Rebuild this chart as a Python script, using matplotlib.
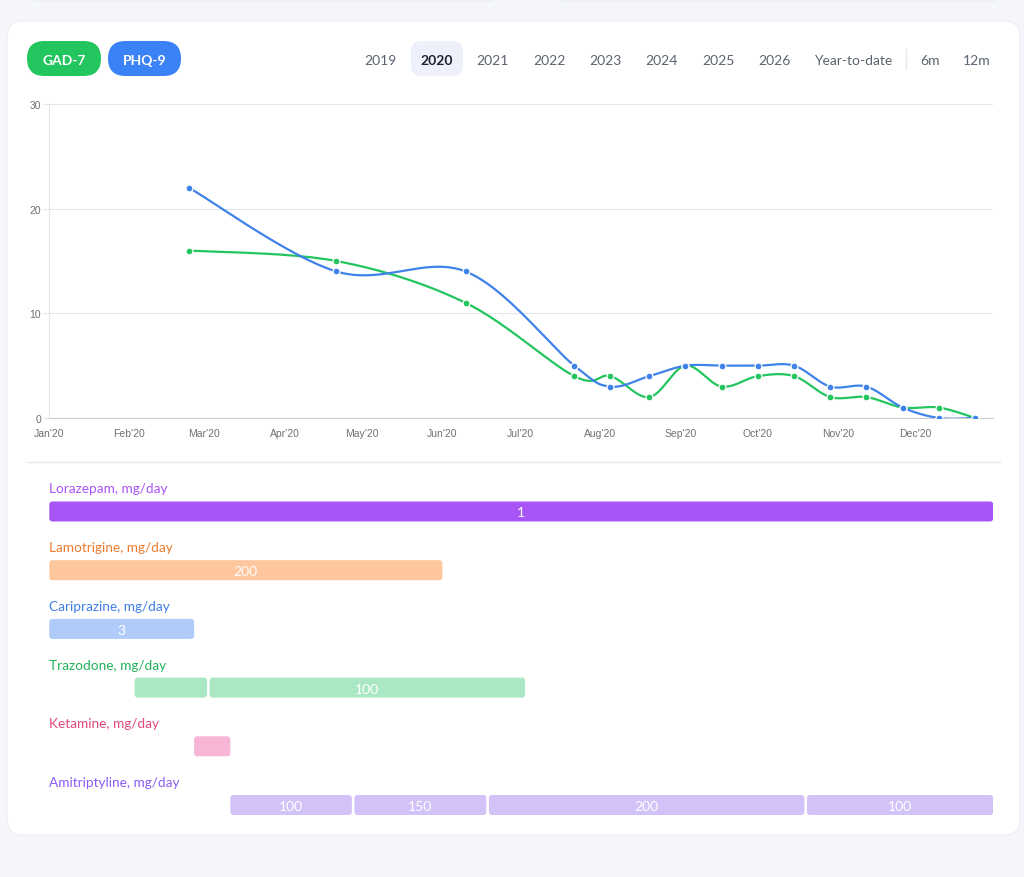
import numpy as np
import pandas as pd
import matplotlib
matplotlib.use("Agg")
import matplotlib.pyplot as plt
import matplotlib.dates as mdates
from matplotlib.patches import FancyBboxPatch

# assessment scores
dates = ["2020-02-24", "2020-04-21", "2020-06-10", "2020-07-22", "2020-08-05",
         "2020-08-20", "2020-09-03", "2020-09-17", "2020-10-01", "2020-10-15",
         "2020-10-29", "2020-11-12", "2020-11-26", "2020-12-10", "2020-12-24"]
gad7 = [16, 15, 11, 4, 4, 2, 5, 3, 4, 4, 2, 2, 1, 1, 0]
phq9 = [22, 14, 14, 5, 3, 4, 5, 5, 5, 5, 3, 3, 1, 0, 0]

# medications: name, segments (start, end), dose labels
med_names = ["Lorazepam", "Lamotrigine", "Cariprazine", "Trazodone", "Ketamine", "Amitriptyline"]
med_segments = [
    [("2020-01-01", "2020-12-31")],
    [("2020-01-01", "2020-06-01")],
    [("2020-01-01", "2020-02-26")],
    [("2020-02-03", "2020-03-02"), ("2020-03-03", "2020-07-03")],
    [("2020-02-26", "2020-03-11")],
    [("2020-03-11", "2020-04-27"), ("2020-04-28", "2020-06-18"),
     ("2020-06-19", "2020-10-19"), ("2020-10-20", "2020-12-31")],
]
med_doses = [["1"], ["200"], ["3"], ["", "100"], [""], ["100", "150", "200", "100"]]
med_text_colors = ["#a855f7", "#ee7b30", "#3f7fe6", "#22b35a", "#e0487f", "#8b5cf6"]
med_bar_colors = ["#a855f7", "#fdc69c", "#b0cbfa", "#a9e8c2", "#f7b6d6", "#d3c2f8"]

years = ["2019", "2020", "2021", "2022", "2023", "2024", "2025", "2026", "Year-to-date"]

BLUE = "#3f82ea"
GREEN = "#22c55e"
UI = "Lato"

fig = plt.figure(figsize=(10.24, 8.78), dpi=100)
fig.patch.set_facecolor("#f4f6fb")

# background / card layer in pixel coords
bg = fig.add_axes([0, 0, 1, 1])
bg.set_xlim(0, 1024)
bg.set_ylim(878, 0)
bg.axis("off")


def rbox(ax, x0, y0, x1, y1, r, fc, ec="none", lw=0, z=1):
    ax.add_patch(FancyBboxPatch((x0, y0), x1 - x0, y1 - y0,
                                boxstyle=f"round,pad=0,rounding_size={r}",
                                fc=fc, ec=ec, lw=lw, zorder=z))


rbox(bg, 30, -30, 497, 2, 10, "white", "#e8ebf2", 0.8)
rbox(bg, 557, -30, 1000, 2, 10, "white", "#e8ebf2", 0.8)
rbox(bg, 7, 22, 1020, 836, 16, "white", "#eceef4", 0.8)

# pills
ty = 61
rbox(bg, 27, 42, 101, 77, 17.5, GREEN, z=2)
rbox(bg, 108, 42, 181, 77, 17.5, "#3b82f6", z=2)
bg.text(64, ty, "GAD-7", color="white", fontsize=10, fontfamily=UI, fontweight="bold",
        ha="center", va="center", zorder=3)
bg.text(144.5, ty, "PHQ-9", color="white", fontsize=10, fontfamily=UI, fontweight="bold",
        ha="center", va="center", zorder=3)

# year tabs
tab_x = [380, 437, 492, 549, 605, 661, 718, 774, 853]
rbox(bg, 411, 42, 463, 77, 10, "#eef0fc", z=2)
for tx, label in zip(tab_x, years):
    sel = label == "2020"
    bg.text(tx, ty, label, color="#1f2430" if sel else "#5b6370", fontsize=10,
            fontfamily=UI, fontweight="bold" if sel else "normal",
            ha="center", va="center", zorder=3)
bg.plot([906, 906], [50, 70], color="#e5e7eb", lw=1, zorder=3)
bg.text(930, ty, "6m", color="#5b6370", fontsize=10, fontfamily=UI, ha="center", va="center", zorder=3)
bg.text(977, ty, "12m", color="#5b6370", fontsize=10, fontfamily=UI, ha="center", va="center", zorder=3)

# separator
bg.plot([28, 1000], [463, 463], color="#e6e8ee", lw=1, zorder=3)

# ---- score chart ----
x0_px, x1_px = 49.3, 993.2
ax = fig.add_axes([x0_px / 1024, 1 - 419 / 878, (x1_px - x0_px) / 1024, (419 - 105) / 878])
ax.patch.set_alpha(0)
xmin = mdates.date2num(pd.Timestamp("2020-01-01"))
xmax = mdates.date2num(pd.Timestamp("2020-12-31"))
ax.set_xlim(xmin, xmax)
ax.set_ylim(0, 30)


def catmull(x, y, n=24):
    pts = np.column_stack([x, y])
    P = np.vstack([pts[0], pts, pts[-1]])
    t = np.linspace(0, 1, n)[:, None]
    out = []
    for i in range(1, len(P) - 2):
        p0, p1, p2, p3 = P[i - 1], P[i], P[i + 1], P[i + 2]
        seg = 0.5 * (2 * p1 + (-p0 + p2) * t + (2 * p0 - 5 * p1 + 4 * p2 - p3) * t ** 2
                     + (-p0 + 3 * p1 - 3 * p2 + p3) * t ** 3)
        out.append(seg)
    return np.vstack(out)


xd = mdates.date2num(pd.to_datetime(dates))
for vals, col in [(gad7, GREEN), (phq9, BLUE)]:
    c = catmull(xd, np.array(vals, dtype=float))
    ax.plot(c[:, 0], c[:, 1], color=col, lw=1.6, zorder=3, solid_capstyle="round")
    ax.plot(xd, vals, "o", ms=5, color=col, mec="white", mew=0.9, zorder=4)

ax.set_yticks([0, 10, 20, 30])
ax.grid(axis="y", color="#e4e6ea", lw=0.8)
ax.set_axisbelow(True)
ax.xaxis.set_major_locator(mdates.MonthLocator())
ax.xaxis.set_major_formatter(mdates.DateFormatter("%b'%y"))
for s in ["top", "right"]:
    ax.spines[s].set_visible(False)
ax.spines["left"].set_color("#e4e6ea")
ax.spines["bottom"].set_color("#c9ccd2")
ax.tick_params(axis="x", length=0, labelsize=7.5, labelcolor="#707070", pad=7)
ax.tick_params(axis="y", length=4.5, width=0.8, color="#e4e6ea", labelsize=7.5,
               labelcolor="#707070", pad=1.5)
for lbl in ax.get_xticklabels() + ax.get_yticklabels():
    lbl.set_fontfamily("Liberation Sans")

# ---- medication bars ----
top_px, bot_px = 470, 840
ax2 = fig.add_axes([x0_px / 1024, 1 - bot_px / 878, (x1_px - x0_px) / 1024, (bot_px - top_px) / 878])
ax2.set_xlim(xmin, xmax)
ax2.set_ylim(bot_px, top_px)
ax2.axis("off")
ax2.patch.set_alpha(0)
px_per_day = (x1_px - x0_px) / (xmax - xmin)

row0, row_step, bar_h = 512.5, 58.7, 20
for i, name in enumerate(med_names):
    yc = row0 + i * row_step
    ax2.text(xmin, yc - 23, f"{name}, mg/day", color=med_text_colors[i], fontsize=9.8,
             fontfamily=UI, ha="left", va="center")
    for (s, e), dose in zip(med_segments[i], med_doses[i]):
        sx = mdates.date2num(pd.Timestamp(s))
        ex = mdates.date2num(pd.Timestamp(e))
        ax2.add_patch(FancyBboxPatch((sx, yc - bar_h / 2), ex - sx, bar_h,
                                     boxstyle=f"round,pad=0,rounding_size={3 / px_per_day}",
                                     mutation_aspect=px_per_day,
                                     fc=med_bar_colors[i], ec="none"))
        if dose:
            ax2.text((sx + ex) / 2, yc + 1, dose, color="white", fontsize=10,
                     fontfamily=UI, ha="center", va="center")

fig.savefig("out.png", dpi=100, facecolor=fig.get_facecolor())
